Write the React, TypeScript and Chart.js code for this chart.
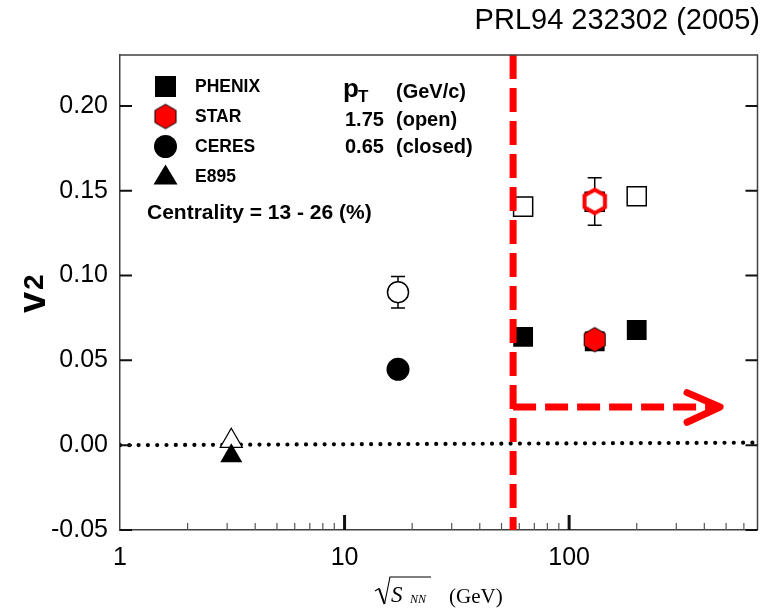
import React, { useEffect, useRef } from 'react';
import { Chart, registerables } from 'chart.js';

Chart.register(...registerables);

const TITLE = 'PRL94 232302 (2005)';
const SANS = '"Liberation Sans", Arial, Helvetica, sans-serif';
const SERIF = '"Liberation Serif", "Times New Roman", serif';

// data
const phenixX = [62.4, 130, 200];
const phenixOpen = [0.1406, 0.1435, 0.1467];
const phenixClosed = [0.0638, 0.0612, 0.0679];
const starX = [130];
const starOpen = [0.1437];
const starOpenErr = [0.014];
const starClosed = [0.0622];
const ceresX = [17.3];
const ceresOpen = [0.0902];
const ceresOpenErr = [0.0093];
const ceresClosed = [0.0447];
const e895X = [3.13];
const e895Open = [0.0025];
const e895Closed = [-0.0063];

// reference lines
const zeroLineX = [1, 690];
const zeroLineY = [0, 0.0015];
const cutX = [56.3, 56.3];
const cutY = [0.23, -0.05];
const arrowX = [56.3, 470];
const arrowY = [0.0225, 0.0225];
const arrowHeadX = [335, 470, 335];
const arrowHeadY = [0.031, 0.0225, 0.0135];

// axes
const X_MIN = 1;
const X_MAX = 690;
const Y_MIN = -0.05;
const Y_MAX = 0.23;
const yTicks = [-0.05, 0, 0.05, 0.1, 0.15, 0.2];
const xMajor = [1, 10, 100];
const xMinor = [2, 3, 4, 5, 6, 7, 8, 9, 20, 30, 40, 50, 60, 70, 80, 90, 200, 300, 400, 500, 600];

const legendNames = ['PHENIX', 'STAR', 'CERES', 'E895'];
const legendStyles = ['square', 'hexagon', 'circle', 'triangle'];
const centralityText = 'Centrality = 13 - 26 (%)';
const ptRows = [
  ['1.75', '(open)'],
  ['0.65', '(closed)'],
];

function makeHex(R: number, fill: string, stroke: string, lw: number) {
  const size = Math.ceil(2 * R + lw + 4);
  const c = document.createElement('canvas');
  c.width = size;
  c.height = size;
  const ctx = c.getContext('2d')!;
  const cx = size / 2;
  const cy = size / 2;
  ctx.beginPath();
  for (let k = 0; k < 6; k++) {
    const a = -Math.PI / 2 + (k * Math.PI) / 3;
    const px = cx + R * Math.cos(a);
    const py = cy + R * Math.sin(a);
    if (k === 0) ctx.moveTo(px, py);
    else ctx.lineTo(px, py);
  }
  ctx.closePath();
  ctx.fillStyle = fill;
  ctx.fill();
  ctx.lineWidth = lw;
  ctx.strokeStyle = stroke;
  ctx.stroke();
  return c;
}

const pts = (xs: number[], ys: number[]) => xs.map((x, i) => ({ x, y: ys[i] }));

export default function App() {
  const ref = useRef<HTMLCanvasElement | null>(null);

  useEffect(() => {
    if (!ref.current) return;
    const hexOpen = makeHex(11.8, '#ffffff', '#ff0000', 4);
    const hexFilled = makeHex(12.2, '#ff0000', '#000000', 1);

    const decor = {
      id: 'decor',
      beforeDatasetsDraw(chart: any) {
        const { ctx, scales } = chart;
        const xs = scales.x;
        const ys = scales.y;
        ctx.save();
        ctx.strokeStyle = '#000';
        ctx.lineWidth = 1.5;
        const bars = [
          { x: ceresX, y: ceresOpen, e: ceresOpenErr },
          { x: starX, y: starOpen, e: starOpenErr },
        ];
        bars.forEach((b) => {
          b.x.forEach((xv, i) => {
            const px = xs.getPixelForValue(xv);
            const p1 = ys.getPixelForValue(b.y[i] + b.e[i]);
            const p2 = ys.getPixelForValue(b.y[i] - b.e[i]);
            ctx.beginPath();
            ctx.moveTo(px, p1);
            ctx.lineTo(px, p2);
            ctx.moveTo(px - 7, p1);
            ctx.lineTo(px + 7, p1);
            ctx.moveTo(px - 7, p2);
            ctx.lineTo(px + 7, p2);
            ctx.stroke();
          });
        });
        ctx.restore();
      },
      afterDraw(chart: any) {
        const { ctx, scales, chartArea } = chart;
        const xs = scales.x;
        const ys = scales.y;
        const { left, right, top, bottom } = chartArea;
        ctx.save();
        // frame top & right
        ctx.strokeStyle = '#404040';
        ctx.lineWidth = 1.5;
        ctx.beginPath();
        ctx.moveTo(left, top);
        ctx.lineTo(right, top);
        ctx.lineTo(right, bottom);
        ctx.stroke();
        // y ticks
        ctx.strokeStyle = '#111';
        ctx.lineWidth = 2;
        yTicks.forEach((v) => {
          const py = ys.getPixelForValue(v);
          ctx.beginPath();
          ctx.moveTo(left, py);
          ctx.lineTo(left + 12, py);
          ctx.moveTo(right, py);
          ctx.lineTo(right - 12, py);
          ctx.stroke();
        });
        // x ticks
        ctx.lineWidth = 3;
        xMajor.forEach((v) => {
          const px = xs.getPixelForValue(v);
          if (px <= left + 1) return;
          ctx.beginPath();
          ctx.moveTo(px, bottom);
          ctx.lineTo(px, bottom - 15);
          ctx.stroke();
        });
        ctx.strokeStyle = '#555';
        ctx.lineWidth = 1.2;
        xMinor.forEach((v) => {
          const px = xs.getPixelForValue(v);
          ctx.beginPath();
          ctx.moveTo(px, bottom);
          ctx.lineTo(px, bottom - 7);
          ctx.stroke();
        });

        // title
        ctx.fillStyle = '#000';
        ctx.font = `29px ${SANS}`;
        ctx.textAlign = 'right';
        ctx.textBaseline = 'middle';
        ctx.fillText(TITLE, 760, 21);

        // legend
        const lx = 165.5;
        legendNames.forEach((name, i) => {
          const cy = 86.5 + i * 30;
          const st = legendStyles[i];
          ctx.fillStyle = '#000';
          if (st === 'square') {
            ctx.fillRect(lx - 10.5, cy - 10.5, 21, 21);
          } else if (st === 'hexagon') {
            ctx.drawImage(hexFilled, lx - hexFilled.width / 2, cy - hexFilled.height / 2);
          } else if (st === 'circle') {
            ctx.beginPath();
            ctx.arc(lx, cy, 11.5, 0, Math.PI * 2);
            ctx.fill();
          } else {
            ctx.beginPath();
            ctx.moveTo(lx, cy - 12);
            ctx.lineTo(lx + 12, cy + 8);
            ctx.lineTo(lx - 12, cy + 8);
            ctx.closePath();
            ctx.fill();
          }
          ctx.font = `bold 17.5px ${SANS}`;
          ctx.textAlign = 'left';
          ctx.textBaseline = 'middle';
          ctx.fillText(name, 195, cy + 0.5);
        });
        ctx.font = `bold 21px ${SANS}`;
        ctx.fillText(centralityText, 147, 213);

        // pT block
        ctx.textBaseline = 'alphabetic';
        ctx.font = `bold 26px ${SANS}`;
        ctx.fillText('p', 343, 97);
        ctx.font = `bold 17px ${SANS}`;
        ctx.fillText('T', 358, 102);
        ctx.font = `bold 20px ${SANS}`;
        ctx.fillText('(GeV/c)', 396, 98);
        ptRows.forEach((r, i) => {
          const by = 126 + i * 26.5;
          ctx.fillText(r[0], 345, by);
          ctx.fillText(r[1], 396, by);
        });

        // y axis title
        ctx.save();
        ctx.translate(45, 313);
        ctx.rotate(-Math.PI / 2);
        ctx.font = `bold 38px ${SANS}`;
        ctx.fillText('v', 0, 0);
        ctx.font = `bold 28px ${SANS}`;
        ctx.fillText('2', 23, -2);
        ctx.restore();

        // x axis title
        ctx.strokeStyle = '#000';
        ctx.lineWidth = 1.1;
        ctx.beginPath();
        ctx.moveTo(375, 591);
        ctx.lineTo(379, 588.5);
        ctx.stroke();
        ctx.lineWidth = 2;
        ctx.beginPath();
        ctx.moveTo(379, 588.5);
        ctx.lineTo(384.5, 604);
        ctx.stroke();
        ctx.lineWidth = 1.1;
        ctx.beginPath();
        ctx.moveTo(384.5, 604);
        ctx.lineTo(390, 577);
        ctx.lineTo(431, 577);
        ctx.stroke();
        ctx.fillStyle = '#000';
        ctx.textAlign = 'left';
        ctx.font = `italic 23px ${SERIF}`;
        ctx.fillText('S', 391, 602);
        ctx.font = `italic 12px ${SERIF}`;
        ctx.fillText('NN', 410, 603);
        ctx.font = `21px ${SERIF}`;
        ctx.fillText('(GeV)', 449, 603);
        ctx.restore();
      },
    };

    const chart = new Chart(ref.current, {
      type: 'scatter',
      data: {
        datasets: [
          {
            data: pts(cutX, cutY),
            showLine: true,
            borderColor: '#ff0000',
            borderWidth: 7,
            borderDash: [24, 9],
            pointRadius: 0,
            order: 0,
          } as any,
          {
            data: pts(arrowX, arrowY),
            showLine: true,
            borderColor: '#ff0000',
            borderWidth: 7,
            borderDash: [23, 9],
            pointRadius: 0,
            order: 0,
          },
          {
            data: pts(arrowHeadX, arrowHeadY),
            showLine: true,
            borderColor: '#ff0000',
            borderWidth: 7,
            borderCapStyle: 'round',
            borderJoinStyle: 'round',
            pointRadius: 0,
            order: 0,
          },
          {
            data: pts(starX, starOpen),
            pointStyle: hexOpen,
            pointRadius: 12,
            order: 1,
          },
          {
            data: pts(starX, starClosed),
            pointStyle: hexFilled,
            pointRadius: 12,
            order: 1,
          },
          {
            data: pts(phenixX, phenixOpen),
            pointStyle: 'rect',
            pointRadius: 13.5,
            backgroundColor: '#fff',
            borderColor: '#000',
            borderWidth: 1.5,
            order: 2,
          },
          {
            data: pts(phenixX, phenixClosed),
            pointStyle: 'rect',
            pointRadius: 14,
            backgroundColor: '#000',
            borderColor: '#000',
            borderWidth: 0,
            order: 2,
          },
          {
            data: pts(ceresX, ceresOpen),
            pointStyle: 'circle',
            pointRadius: 10.5,
            backgroundColor: '#fff',
            borderColor: '#000',
            borderWidth: 1.5,
            order: 3,
          },
          {
            data: pts(ceresX, ceresClosed),
            pointStyle: 'circle',
            pointRadius: 11.5,
            backgroundColor: '#000',
            borderColor: '#000',
            borderWidth: 0,
            order: 3,
          },
          {
            data: pts(e895X, e895Open),
            pointStyle: 'triangle',
            pointRadius: 12.7,
            backgroundColor: '#fff',
            borderColor: '#000',
            borderWidth: 1.3,
            order: 4,
          },
          {
            data: pts(e895X, e895Closed),
            pointStyle: 'triangle',
            pointRadius: 12.7,
            backgroundColor: '#000',
            borderColor: '#000',
            borderWidth: 0,
            order: 3,
          },
          {
            data: pts(zeroLineX, zeroLineY),
            showLine: true,
            borderColor: '#000',
            borderWidth: 4.2,
            borderDash: [0, 9.3],
            borderCapStyle: 'round',
            pointRadius: 0,
            order: 10,
          },
        ],
      },
      options: {
        responsive: false,
        animation: false,
        devicePixelRatio: 1,
        events: [],
        layout: { padding: { left: 0, top: 55, right: 17.5, bottom: 0 } },
        plugins: {
          legend: { display: false },
          tooltip: { enabled: false },
          title: { display: false },
        },
        scales: {
          x: {
            type: 'logarithmic',
            position: 'bottom',
            min: X_MIN,
            max: X_MAX,
            grid: { display: false, drawTicks: false },
            border: { display: true, color: '#404040', width: 1.5 },
            afterBuildTicks: (s: any) => {
              s.ticks = xMajor.map((v) => ({ value: v }));
            },
            afterFit: (s: any) => {
              s.height = 82;
            },
            ticks: {
              autoSkip: false,
              maxRotation: 0,
              padding: 13,
              color: '#000',
              font: { family: SANS, size: 25 },
              callback: (v: any) => String(v),
            },
          },
          y: {
            type: 'linear',
            min: Y_MIN,
            max: Y_MAX,
            grid: { display: false, drawTicks: false },
            border: { display: true, color: '#404040', width: 1.5 },
            afterBuildTicks: (s: any) => {
              s.ticks = yTicks.map((v) => ({ value: v }));
            },
            afterFit: (s: any) => {
              s.width = 120;
            },
            ticks: {
              padding: 12,
              color: '#000',
              font: { family: SANS, size: 25 },
              callback: (v: any) => Number(v).toFixed(2),
            },
          },
        },
      } as any,
      plugins: [decor],
    });
    return () => chart.destroy();
  }, []);

  return (
    <div style={{ position: 'absolute', left: 0, top: 0, width: 775, height: 612, background: '#fff' }}>
      <canvas ref={ref} width={775} height={612} style={{ display: 'block', width: 775, height: 612 }} />
    </div>
  );
}
